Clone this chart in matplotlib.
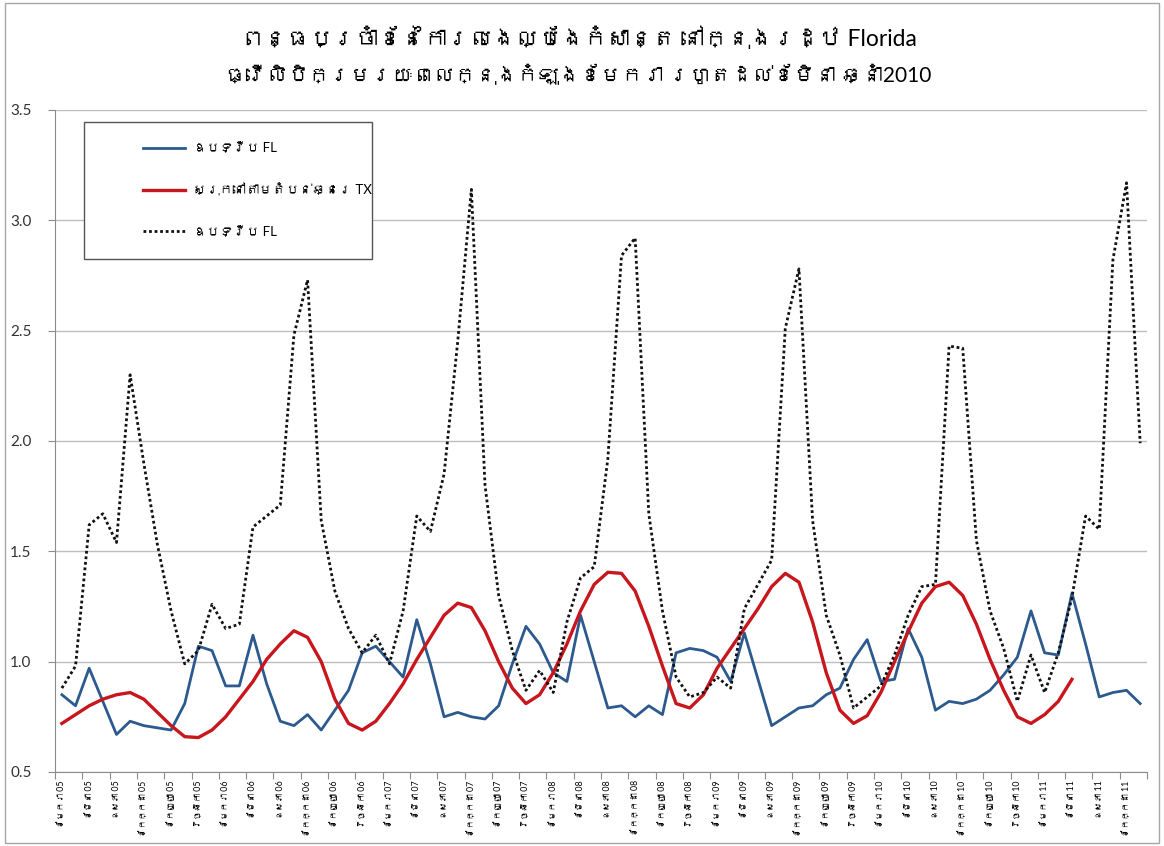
import matplotlib
matplotlib.use('Agg')
import matplotlib.pyplot as plt
from matplotlib import font_manager as fm
from matplotlib.ft2font import FT2Font
from matplotlib.patches import Rectangle
from matplotlib.lines import Line2D

# ---- data (monthly, Jan 05 .. Aug 11) ----
months = ['ខែមករា', 'ខែកុម្ភៈ', 'ខែមិនា', 'ខែមេសា', 'ឧសភា', 'ខែមិថុនា',
          'ខែកក្កដា', 'ខែសីហា', 'ខែកញ្ញា', 'ខែតុលា', 'វិច្ឆិកា', 'ខែធ្នូ']
years = ['05', '06', '07', '08', '09', '10', '11']

fl_solid = [0.85, 0.80, 0.97, 0.82, 0.67, 0.73, 0.71, 0.70, 0.69, 0.81,
            1.07, 1.05, 0.89, 0.89, 1.12, 0.90, 0.73, 0.71, 0.76, 0.69,
            0.78, 0.87, 1.04, 1.07, 1.00, 0.93, 1.19, 0.99, 0.75, 0.77,
            0.75, 0.74, 0.80, 0.99, 1.16, 1.08, 0.95, 0.91, 1.21, 1.00,
            0.79, 0.80, 0.75, 0.80, 0.76, 1.04, 1.06, 1.05, 1.02, 0.91,
            1.13, 0.92, 0.71, 0.75, 0.79, 0.80, 0.85, 0.88, 1.01, 1.10,
            0.91, 0.92, 1.15, 1.02, 0.78, 0.82, 0.81, 0.83, 0.87, 0.94,
            1.02, 1.23, 1.04, 1.03, 1.31, 1.08, 0.84, 0.86, 0.87, 0.81]

tx_coast = [0.72, 0.76, 0.80, 0.83, 0.85, 0.86, 0.83, 0.77, 0.71, 0.66,
            0.656, 0.69, 0.75, 0.83, 0.91, 1.01, 1.08, 1.14, 1.11, 1.00,
            0.83, 0.72, 0.69, 0.73, 0.81, 0.90, 1.01, 1.11, 1.21, 1.265,
            1.245, 1.14, 1.00, 0.88, 0.81, 0.85, 0.95, 1.08, 1.23, 1.35,
            1.405, 1.40, 1.32, 1.16, 0.98, 0.81, 0.79, 0.85, 0.97, 1.06,
            1.15, 1.24, 1.34, 1.40, 1.36, 1.18, 0.95, 0.78, 0.72, 0.755,
            0.86, 1.00, 1.135, 1.265, 1.34, 1.36, 1.30, 1.17, 1.01, 0.87,
            0.75, 0.72, 0.76, 0.82, 0.92]

fl_dotted = [0.88, 0.98, 1.62, 1.67, 1.54, 2.30, 1.90, 1.53, 1.23, 0.99,
             1.05, 1.26, 1.15, 1.17, 1.61, 1.66, 1.71, 2.48, 2.73, 1.64,
             1.32, 1.15, 1.04, 1.12, 0.99, 1.23, 1.66, 1.59, 1.85, 2.45,
             3.14, 1.80, 1.30, 1.05, 0.87, 0.96, 0.86, 1.18, 1.38, 1.43,
             1.92, 2.84, 2.92, 1.67, 1.23, 0.93, 0.84, 0.86, 0.93, 0.88,
             1.24, 1.35, 1.46, 2.51, 2.78, 1.64, 1.21, 1.03, 0.79, 0.84,
             0.89, 1.03, 1.21, 1.34, 1.35, 2.43, 2.42, 1.55, 1.23, 1.06,
             0.82, 1.03, 0.86, 1.04, 1.29, 1.66, 1.60, 2.82, 3.17, 1.99]

labels = ['ឧបទ្វីប FL', 'ស្រុកនៅតាមតំបន់ឆ្នេរ TX', 'ឧបទ្វីប FL']
title1 = 'ពន្ធប្រចាំខែនៃការលេងល្បែងកំសាន្ត នៅក្នុងរដ្ឋ Florida'
title2 = 'ធ្វើលិបិក្រមរយៈពេលក្នុងកំឡុងខែមករា រហូតដល់ខែមិនា ឆ្នាំ2010'


def khmer_fonts():
    # look for any installed family that has Khmer glyphs
    found = []
    for f in fm.fontManager.ttflist:
        if f.name in found:
            continue
        try:
            if 0x1780 in FT2Font(f.fname).get_charmap():
                found.append(f.name)
        except Exception:
            pass
    return found


plt.rcParams['font.family'] = ['Lato'] + khmer_fonts() + ['DejaVu Sans']

fig = plt.figure(figsize=(11.64, 8.46), dpi=100)
ax = fig.add_axes([0.0473, 0.0875, 0.9381, 0.7825])

n = len(fl_solid)
x = list(range(n))
ax.plot(x, fl_solid, color='#2C5A8E', lw=2.0, zorder=3)
ax.plot(x[:len(tx_coast)], tx_coast, color='#C8161D', lw=2.4, zorder=3)
ax.plot(x, fl_dotted, color='#111111', lw=2.0, linestyle=(0, (1, 1)), zorder=4)

ax.set_xlim(-0.5, n - 0.5)
ax.set_ylim(0.5, 3.5)
ax.set_yticks([0.5, 1.0, 1.5, 2.0, 2.5, 3.0, 3.5])
ax.set_yticklabels(['%.1f' % v for v in ax.get_yticks()])
ax.yaxis.grid(True, color='#BEBEBE', lw=1.0)
ax.set_axisbelow(True)

# tick marks between every second month, labels on the month itself
ax.set_xticks([i - 0.5 for i in range(0, n + 1, 2)])
ax.set_xticklabels([])
tick_lbl = [months[i % 12] + ' ' + years[i // 12] for i in range(0, n, 2)]
ax.set_xticks(list(range(0, n, 2)), minor=True)
ax.set_xticklabels(tick_lbl, minor=True, rotation=90, fontsize=6.3)
ax.tick_params(axis='x', which='minor', length=0, pad=6)
ax.tick_params(axis='x', which='major', length=5, color='#8C8C8C')
ax.tick_params(axis='y', length=5, color='#8C8C8C', labelsize=11,
               labelcolor='#333333', pad=12)

for s in ['top', 'right']:
    ax.spines[s].set_visible(False)
for s in ['left', 'bottom']:
    ax.spines[s].set_color('#8C8C8C')

# legend box
ax.add_patch(Rectangle((0.0266, 0.775), 0.2637, 0.207, transform=ax.transAxes,
                       facecolor='white', edgecolor='#555555', lw=1.0, zorder=5))
handles = [Line2D([], [], color='#2C5A8E', lw=2.0),
           Line2D([], [], color='#C8161D', lw=2.4),
           Line2D([], [], color='#111111', lw=2.0, linestyle=(0, (1, 1)))]
leg = ax.legend(handles, labels, loc='upper left', bbox_to_anchor=(0.072, 0.965),
                frameon=False, fontsize=9.5, handlelength=3.2, handletextpad=0.6,
                labelspacing=2.2, borderpad=0.2)
leg.set_zorder(6)

fig.text(0.497, 0.955, title1, ha='center', va='center', fontsize=16.5)
fig.text(0.497, 0.911, title2, ha='center', va='center', fontsize=15)

fig.patches.append(Rectangle((0.004, 0.003), 0.992, 0.994, transform=fig.transFigure,
                             fill=False, edgecolor='#A6A6A6', lw=1.0))

fig.savefig('out.png', dpi=100)
